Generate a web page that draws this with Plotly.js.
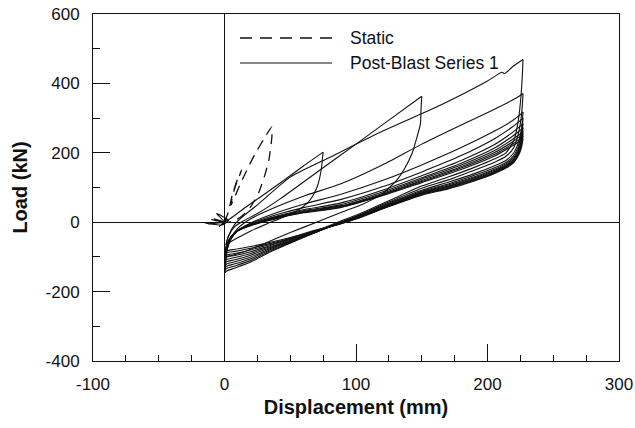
<!DOCTYPE html>
<html>
<head>
<meta charset="utf-8">
<script src="https://cdn.plot.ly/plotly-3.0.1.min.js"></script>
<style>html,body{margin:0;padding:0;background:#fff;}#chart{width:635px;height:428px;}</style>
</head>
<body>
<div id="chart"></div>
<script>
// ---- Static test (dashed) ----
const staticX = [0, 3, 6, 10, 13, 11, 8, 6, 5, 8, 12, 17, 23, 30, 36, 36, 34, 31, 26, 20, 14, 8, 3];
const staticY = [0, 30, 80, 125, 150, 130, 100, 75, 50, 75, 110, 150, 195, 240, 275, 245, 185, 140, 85, 45, 20, 5, 0];

// ---- Post-Blast Series 1 (solid) ----
// small scatter of lines around the origin
const pbOriginX = [0, -12, -3, -8, 0, -15, -2, 3, -6, 0, -10, 0, -4, 2];
const pbOriginY = [0, -6, 2, 10, 0, -2, -8, 5, 25, 0, 8, 0, -12, 8];

// cycle to 75 mm
const pbA_loadX = [0, 5, 15, 30, 45, 60, 75];
const pbA_loadY = [0, 12, 40, 80, 120, 162, 202];
const pbA_unloadX = [75, 74.5, 74, 72.5, 70.5, 67, 63, 56, 45, 32, 20, 10, 4, 1];
const pbA_unloadY = [202, 185, 164, 130, 102, 75, 55, 35, 15, -5, -25, -45, -58, -65];

// cycle to 150 mm
const pbB_loadX = [1, 3, 8, 15, 25, 42.6, 75, 100, 125, 150];
const pbB_loadY = [-65, -40, -12, 5, 25, 68, 157, 225, 294, 363];
const pbB_unloadX = [150, 149.5, 149, 146, 142.6, 137, 131, 124, 118.6, 105, 90, 70, 50, 30, 15, 6, 2, 0.5];
const pbB_unloadY = [363, 330, 284, 240, 198, 155, 121, 95, 78, 52, 30, 0, -30, -62, -85, -95, -98, -100];

// first cycle to 227 mm
const pbC_loadX = [0.5, 1, 3, 8, 15, 25, 50, 80.6, 120, 164, 200, 211, 213, 219, 227];
const pbC_loadY = [-100, -75, -40, -5, 20, 50, 130, 188, 262, 337, 407, 432, 428, 448, 469];

// repeated cycles at 227 mm: reloading branches
const reloadX = [0.5, 1, 2, 5, 10, 20, 40, 60, 88, 120, 150, 180, 205, 218, 224, 227];
const pbD_loadY = [-145, -110, -80, -45, -18, 10, 45, 75, 110, 165, 225, 280, 325, 350, 363, 371];
const pbE_loadY = [-138, -105, -78, -48, -24, -2, 28, 52, 80, 120, 165, 215, 262, 290, 307, 318];
const pbF_loadY = [-131, -100, -75, -47, -24, -4, 22, 42, 65, 102, 145, 192, 240, 272, 290, 300];
const pbG_loadY = [-124, -95, -72, -46, -25, -6, 18, 36, 55, 92, 134, 178, 223, 256, 274, 284];
const pbH_loadY = [-117, -90, -70, -45, -25, -7, 16, 33, 50, 87, 128, 170, 213, 245, 262, 272];
const pbI_loadY = [-110, -86, -68, -44, -25, -8, 14, 31, 47, 83, 124, 165, 206, 236, 252, 262];
const pbJ_loadY = [-103, -82, -66, -43, -25, -9, 13, 29, 45, 80, 120, 160, 200, 229, 245, 255];
const pbK_loadY = [-97, -79, -64, -42, -25, -9, 12, 28, 43, 78, 117, 156, 195, 223, 238, 248];
const pbL_loadY = [-91, -76, -62, -41, -25, -10, 11, 27, 42, 76, 114, 152, 190, 218, 232, 240];

// repeated cycles at 227 mm: unloading branches
const unloadX = [227, 226.5, 225.5, 223.5, 220, 214, 205, 190, 170, 150, 125, 100, 88, 70, 50, 35, 20, 8, 2, 0.5];
const pbC_unloadY = [469, 425, 365, 295, 235, 200, 182, 158, 130, 104, 62, 20, 3, -25, -60, -85, -115, -132, -140, -145];
const pbD_unloadY = [371, 338, 298, 255, 215, 190, 172, 150, 122, 98, 58, 17, 0, -28, -60, -82, -110, -126, -133, -138];
const pbE_unloadY = [318, 292, 262, 230, 200, 178, 162, 140, 115, 92, 55, 16, -1, -28, -58, -79, -105, -120, -126, -131];
const pbF_unloadY = [300, 276, 250, 220, 192, 172, 156, 135, 110, 89, 53, 15, -2, -28, -56, -76, -100, -114, -120, -124];
const pbG_unloadY = [284, 263, 240, 212, 186, 168, 152, 131, 107, 87, 51, 14, -3, -27, -54, -73, -95, -108, -113, -117];
const pbH_unloadY = [272, 253, 231, 206, 182, 165, 149, 128, 104, 85, 50, 13, -3, -26, -52, -70, -90, -102, -107, -110];
const pbI_unloadY = [262, 245, 225, 201, 179, 162, 146, 125, 102, 83, 48, 12, -4, -25, -50, -67, -85, -96, -100, -103];
const pbJ_unloadY = [255, 240, 220, 198, 176, 160, 144, 123, 100, 81, 47, 11, -4, -24, -48, -64, -80, -90, -94, -97];
const pbK_unloadY = [248, 234, 216, 195, 174, 158, 142, 121, 98, 80, 46, 10, -5, -23, -46, -61, -75, -84, -88, -91];
const pbL_unloadY = [240, 228, 211, 192, 172, 156, 140, 119, 96, 78, 45, 9, -5, -22, -44, -58, -70, -78, -82, -85];

// tick labels
const xTickVals = [-100, 0, 100, 200, 300];
const xTickText = ['-100', '0', '100', '200', '300'];
const yTickVals = [-400, -200, 0, 200, 400, 600];
const yTickText = ['-400', '-200', '0', '200', '400', '600'];

const legendLabels = ['Static', 'Post-Blast Series 1'];

const FONT = 'Liberation Sans, Arial, Helvetica, sans-serif';
const solid = {color: '#111', width: 1.1};

const segments = [
  [pbOriginX, pbOriginY],
  [pbA_loadX, pbA_loadY], [pbA_unloadX, pbA_unloadY],
  [pbB_loadX, pbB_loadY], [pbB_unloadX, pbB_unloadY],
  [pbC_loadX, pbC_loadY], [unloadX, pbC_unloadY],
  [reloadX, pbD_loadY], [unloadX, pbD_unloadY],
  [reloadX, pbE_loadY], [unloadX, pbE_unloadY],
  [reloadX, pbF_loadY], [unloadX, pbF_unloadY],
  [reloadX, pbG_loadY], [unloadX, pbG_unloadY],
  [reloadX, pbH_loadY], [unloadX, pbH_unloadY],
  [reloadX, pbI_loadY], [unloadX, pbI_unloadY],
  [reloadX, pbJ_loadY], [unloadX, pbJ_unloadY],
  [reloadX, pbK_loadY], [unloadX, pbK_unloadY],
  [reloadX, pbL_loadY], [unloadX, pbL_unloadY]
];

const traces = [{
  x: staticX, y: staticY, type: 'scatter', mode: 'lines', name: legendLabels[0],
  line: {color: '#111', width: 1.3, dash: '10px,7px', shape: 'spline', smoothing: 0.5},
  showlegend: false, hoverinfo: 'skip'
}];
segments.forEach(function (s) {
  traces.push({
    x: s[0], y: s[1], type: 'scatter', mode: 'lines', name: legendLabels[1],
    legendgroup: 'pb', showlegend: false, hoverinfo: 'skip',
    line: Object.assign({shape: 'spline', smoothing: 0.6}, solid)
  });
});

const L = 93, R = 619, T = 14, B = 361;
function px2paperX(p) { return (p - L) / (R - L); }
function px2paperY(p) { return (B - p) / (B - T); }

const layout = {
  width: 635, height: 428,
  margin: {l: L, r: 635 - R, t: T, b: 428 - B, pad: 0},
  paper_bgcolor: '#fff', plot_bgcolor: '#fff',
  showlegend: false,
  font: {family: FONT, size: 17, color: '#111'},
  xaxis: {
    range: [-100, 300], tickmode: 'array', tickvals: xTickVals, ticktext: xTickText,
    ticks: 'inside', ticklen: 17, tickwidth: 1, tickcolor: '#111',
    minor: {ticks: 'inside', ticklen: 6, dtick: 25, tick0: 0, tickcolor: '#111', tickwidth: 1, showgrid: false},
    showline: true, mirror: true, linecolor: '#111', linewidth: 1,
    zeroline: true, zerolinecolor: '#111', zerolinewidth: 1, showgrid: false,
    tickfont: {family: FONT, size: 17, color: '#111'}, ticklabelstandoff: 8,
    title: {text: '<b>Displacement (mm)</b>', font: {family: FONT, size: 20, color: '#111'}, standoff: 6}
  },
  yaxis: {
    range: [-400, 600], tickmode: 'array', tickvals: yTickVals, ticktext: yTickText,
    ticks: 'inside', ticklen: 17, tickwidth: 1, tickcolor: '#111',
    minor: {ticks: 'inside', ticklen: 7, dtick: 100, tick0: 0, tickcolor: '#111', tickwidth: 1, showgrid: false},
    showline: true, mirror: true, linecolor: '#111', linewidth: 1,
    zeroline: true, zerolinecolor: '#111', zerolinewidth: 1, showgrid: false,
    tickfont: {family: FONT, size: 17, color: '#111'}, ticklabelstandoff: 9,
    title: {text: '<b>Load (kN)</b>', font: {family: FONT, size: 20, color: '#111'}, standoff: 12}
  },
  shapes: [
    {type: 'line', xref: 'paper', yref: 'paper', x0: px2paperX(240), x1: px2paperX(332), y0: px2paperY(38), y1: px2paperY(38),
     line: {color: '#111', width: 1.3, dash: '12px,8px'}},
    {type: 'line', xref: 'paper', yref: 'paper', x0: px2paperX(240), x1: px2paperX(332), y0: px2paperY(63), y1: px2paperY(63),
     line: {color: '#111', width: 1.1}}
  ],
  annotations: [
    {xref: 'paper', yref: 'paper', x: px2paperX(348), y: px2paperY(38), text: legendLabels[0], showarrow: false,
     xanchor: 'left', yanchor: 'middle', font: {family: FONT, size: 17.5, color: '#111'}},
    {xref: 'paper', yref: 'paper', x: px2paperX(348), y: px2paperY(63), text: legendLabels[1], showarrow: false,
     xanchor: 'left', yanchor: 'middle', font: {family: FONT, size: 17.5, color: '#111'}}
  ]
};

Plotly.newPlot('chart', traces, layout, {staticPlot: true, displayModeBar: false});
</script>
</body>
</html>
